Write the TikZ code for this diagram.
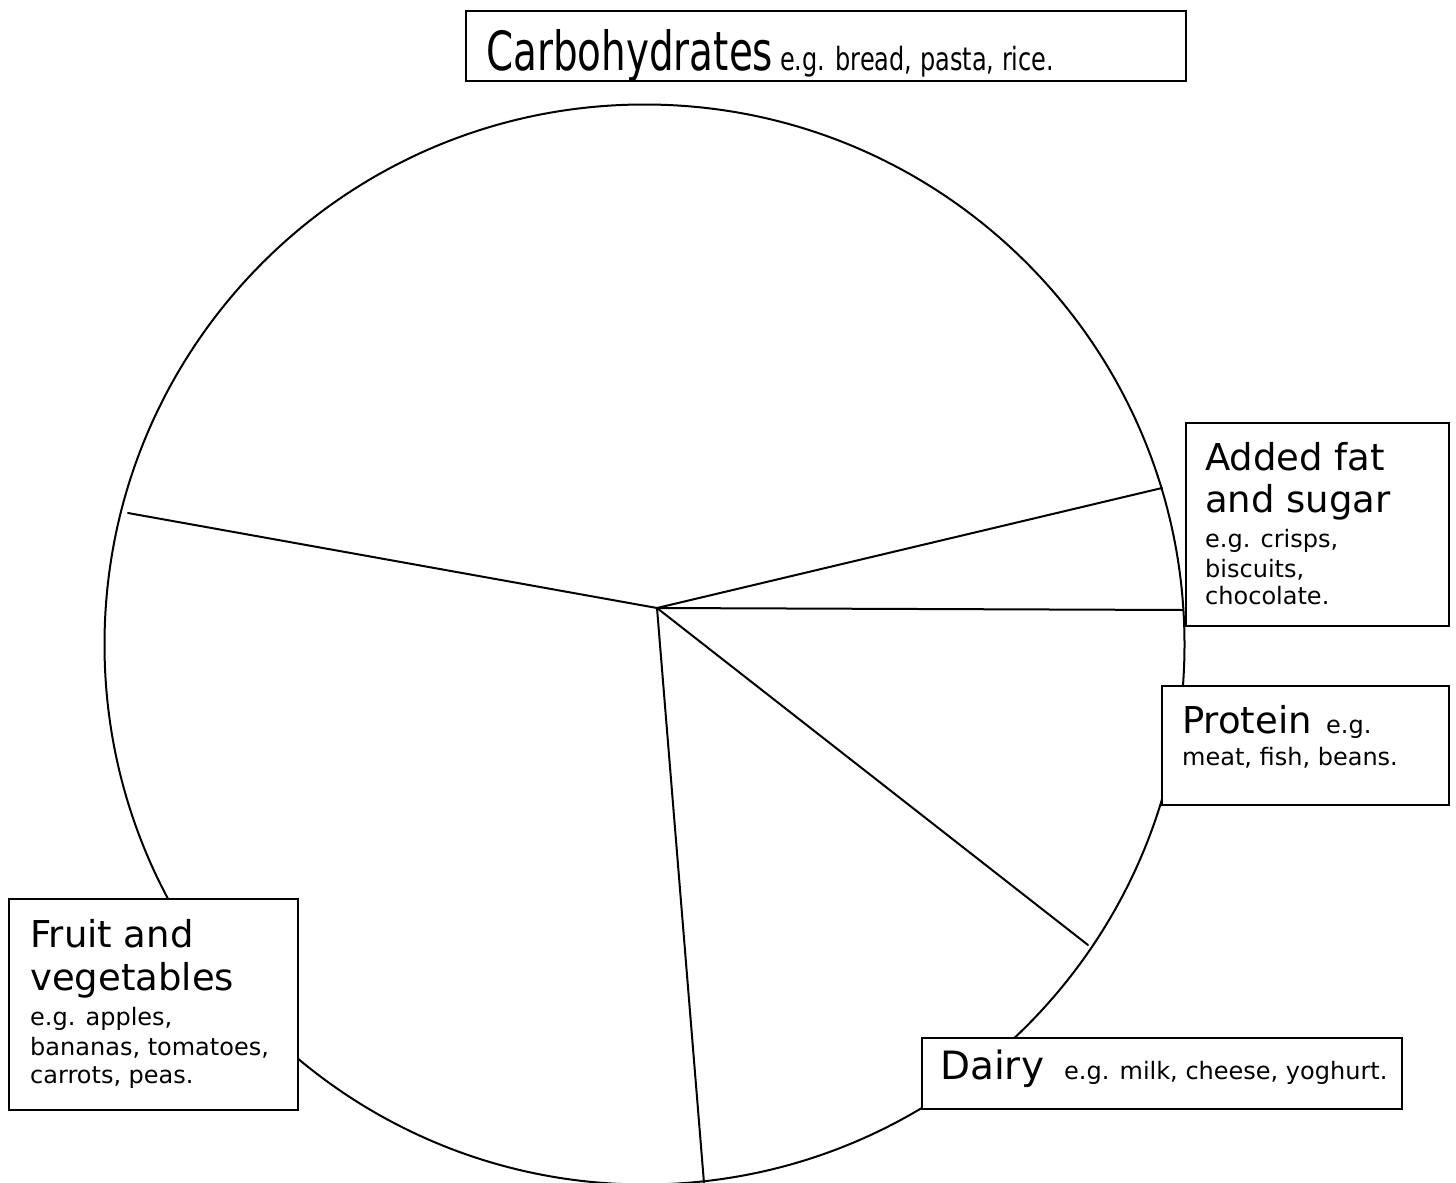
\documentclass[tikz,border=0pt]{standalone}
\usepackage{fontspec}
\setmainfont{DejaVu Sans}
\newfontfamily\condfont[FakeStretch=0.72]{DejaVu Sans}
\newfontfamily\condsmallfont[FakeStretch=0.75]{DejaVu Sans}
\begin{document}
\begin{tikzpicture}[x=1pt,y=-1pt,
  edge/.style={line width=2pt, line cap=round},
  labelbox/.style={draw, line width=2pt, fill=white, inner sep=0pt, anchor=north west},
  big/.style={anchor=base west, inner sep=0pt, font=\fontsize{37}{44}\selectfont},
  small/.style={anchor=base west, inner sep=0pt, font=\fontsize{24}{29}\selectfont}]
\useasboundingbox (0,0) rectangle (1456,1183);
\fill[white] (0,0) rectangle (1456,1183);
% plate
\draw[edge] (644.5,644.5) circle[radius=540];
\coordinate (hub) at (657,608);
\coordinate (eL) at (128,513);
\coordinate (eFatA) at (1162,488);
\coordinate (eFatB) at (1183,610);
\coordinate (eDairy) at (1088,945);
\coordinate (eB) at (704,1183);
\draw[edge] (hub) -- (eL);
\draw[edge] (hub) -- (eFatA);
\draw[edge] (hub) -- (eFatB);
\draw[edge] (hub) -- (eDairy);
\draw[edge] (hub) -- (eB);
% boxes
\node[labelbox, minimum width=720pt, minimum height=70pt] (carbobox) at (465,10) {};
\node[labelbox, minimum width=263pt, minimum height=203pt] (fatbox) at (1185,422) {};
\node[labelbox, minimum width=287pt, minimum height=119pt] (protbox) at (1161,685) {};
\node[labelbox, minimum width=480pt, minimum height=71pt] (dairybox) at (921,1037) {};
\node[labelbox, minimum width=289pt, minimum height=211pt] (fruitbox) at (8,898) {};
% texts
\node[anchor=base west, inner sep=0pt, font=\condfont\fontsize{54}{60}\selectfont] (carbo) at (486,70) {Carbohydrates};
\node[anchor=base west, inner sep=0pt, font=\condsmallfont\fontsize{32}{38}\selectfont] (carboeg) at (780,70) {e.g. bread, pasta, rice.};
\node[big] (fat1) at (1205,470) {Added fat};
\node[big] (fat2) at (1205,512) {and sugar};
\node[small] (fat3) at (1205,547) {e.g. crisps,};
\node[small] (fat4) at (1205,577) {biscuits,};
\node[small] (fat5) at (1205,604) {chocolate.};
\node[big] (prot) at (1182,733) {Protein};
\node[small] (proteg) at (1326,733) {e.g.};
\node[small] (prot2) at (1182,765) {meat, fish, beans.};
\node[big, font=\fontsize{39}{47}\selectfont] (dairy) at (940,1079) {Dairy};
\node[small] (dairyeg) at (1064,1079) {e.g. milk, cheese, yoghurt.};
\node[big] (fruit1) at (30,947) {Fruit and};
\node[big] (fruit2) at (30,990) {vegetables};
\node[small] (fruit3) at (30,1025) {e.g. apples,};
\node[small] (fruit4) at (30,1055) {bananas, tomatoes,};
\node[small] (fruit5) at (30,1083) {carrots, peas.};
\end{tikzpicture}
\end{document}
